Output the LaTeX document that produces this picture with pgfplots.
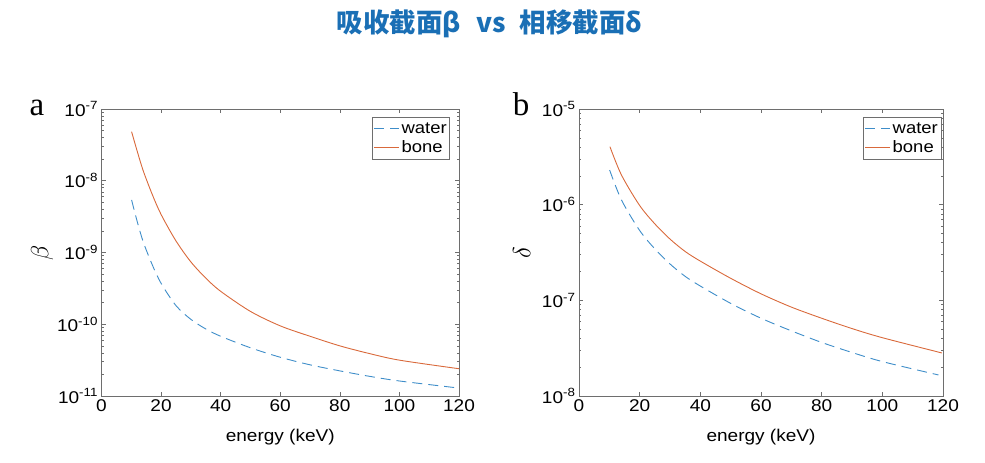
\documentclass[border=0pt]{standalone}
\usepackage{pgfplots}
\pgfplotsset{compat=1.18}
\usepackage{fontspec}
\setmainfont{Liberation Sans}[FakeStretch=1.12]
\newfontfamily\serif{Liberation Serif}
\newfontfamily\cjk{Noto Sans CJK SC}

\definecolor{titleblue}{HTML}{1A6FB5}
\definecolor{watercol}{HTML}{3E8DC9}
\definecolor{bonecol}{HTML}{D9693B}
\definecolor{frame}{HTML}{6E6E6E}

\newcommand{\tickfont}{\fontsize{17}{17}\selectfont}

\begin{document}
\begin{tikzpicture}[x=1pt,y=1pt]
\useasboundingbox (0,0) rectangle (985,463);

\node[font=\cjk\bfseries\fontsize{26.5}{26.5}\selectfont, text=titleblue]
  at (489.5,439) {吸收截面β\hspace{0.6em}vs\hspace{0.5em}相移截面δ};

% panel a
\begin{axis}[
  at={(101.5pt,67pt)}, anchor=south west,
  scale only axis, width=357.5pt, height=287pt,
  ymode=log, ymin=1e-11, ymax=1e-7,
  xmin=0, xmax=120, xtick={0,20,...,120},
  /pgf/number format/assume math mode=true,
  axis line style={frame, line width=1pt},
  tick style={frame, line width=0.6pt},
  major tick length=4pt, minor tick length=2pt,
  tick align=inside,
  ticklabel style={font=\tickfont, black},
  xticklabel={\pgfmathprintnumber{\tick}},
  yticklabel={10\textsuperscript{\pgfmathparse{int(round(\tick/ln(10)))}\pgfmathresult}},
  xlabel={energy (keV)},
  xlabel style={font=\tickfont, at={(axis description cs:0.5,0)}, anchor=center, yshift=-41pt},
  ylabel={$\beta$},
  ylabel style={font=\fontsize{26}{26}\selectfont, at={(axis description cs:-0.166,0.5)}, anchor=center},
  legend cell align=left,
  legend style={draw=frame, line width=0.6pt, font=\fontsize{16.5}{16.5}\selectfont,
    at={(0.975,0.972)}, anchor=north east, inner xsep=1pt, inner ysep=3pt, row sep=2pt},
  legend image code/.code={\draw[#1] (0pt,0pt) -- (25pt,0pt);},
]
\addplot[watercol, dash pattern=on 10pt off 6pt, line width=0.9pt, smooth] coordinates {
  (10.1,5.4e-9) (12,2.69e-9) (14,1.41e-9) (17,6.8e-10) (20,3.72e-10)
  (25,1.82e-10) (30,1.17e-10) (35,8.6e-11) (40,6.8e-11) (50,4.7e-11) (60,3.47e-11)
  (70,2.72e-11) (80,2.24e-11) (90,1.88e-11) (100,1.62e-11) (120,1.29e-11)
};
\addlegendentry{water}
\addplot[bonecol, line width=0.9pt, smooth] coordinates {
  (10.1,4.83e-8) (12,2.57e-8) (14,1.38e-8) (17,6.5e-9) (20,3.39e-9)
  (25,1.45e-9) (30,7.4e-10) (35,4.4e-10) (40,2.88e-10) (50,1.51e-10) (60,9.5e-11)
  (70,6.8e-11) (80,5.0e-11) (90,3.9e-11) (100,3.16e-11) (120,2.4e-11)
};
\addlegendentry{bone}
\end{axis}
\node[font=\serif\fontsize{33}{33}\selectfont, anchor=base] at (37,347) {a};

% panel b
\begin{axis}[
  at={(579pt,67pt)}, anchor=south west,
  scale only axis, width=364pt, height=287pt,
  ymode=log, ymin=1e-8, ymax=1e-5,
  xmin=0, xmax=120, xtick={0,20,...,120},
  /pgf/number format/assume math mode=true,
  axis line style={frame, line width=1pt},
  tick style={frame, line width=0.6pt},
  major tick length=4pt, minor tick length=2pt,
  tick align=inside,
  ticklabel style={font=\tickfont, black},
  xticklabel={\pgfmathprintnumber{\tick}},
  yticklabel={10\textsuperscript{\pgfmathparse{int(round(\tick/ln(10)))}\pgfmathresult}},
  xlabel={energy (keV)},
  xlabel style={font=\tickfont, at={(axis description cs:0.5,0)}, anchor=center, yshift=-41pt},
  ylabel={$\delta$},
  ylabel style={font=\fontsize{26}{26}\selectfont, at={(axis description cs:-0.157,0.5)}, anchor=center},
  legend cell align=left,
  legend style={draw=frame, line width=0.6pt, font=\fontsize{16.5}{16.5}\selectfont,
    at={(0.995,0.972)}, anchor=north east, inner xsep=1pt, inner ysep=3pt, row sep=2pt},
  legend image code/.code={\draw[#1] (0pt,0pt) -- (25pt,0pt);},
]
\addplot[watercol, dash pattern=on 10pt off 6pt, line width=0.9pt, smooth] coordinates {
  (10.1,2.30e-6) (14,1.12e-6) (20,5.37e-7) (25,3.45e-7) (30,2.40e-7) (35,1.78e-7) (40,1.41e-7)
  (50,9.3e-8) (60,6.5e-8) (70,4.8e-8) (80,3.63e-8) (90,2.85e-8)
  (100,2.29e-8) (118.5,1.66e-8)
};
\addlegendentry{water}
\addplot[bonecol, line width=0.9pt, smooth] coordinates {
  (10.2,4.04e-6) (14,2.04e-6) (20,9.8e-7) (25,6.3e-7) (30,4.37e-7) (35,3.24e-7) (40,2.57e-7)
  (50,1.70e-7) (60,1.17e-7) (70,8.5e-8) (80,6.5e-8) (90,5.07e-8)
  (100,4.07e-8) (119.6,2.82e-8)
};
\addlegendentry{bone}
\end{axis}
\node[font=\serif\fontsize{33}{33}\selectfont, anchor=base] at (521,347) {b};
\end{tikzpicture}
\end{document}
